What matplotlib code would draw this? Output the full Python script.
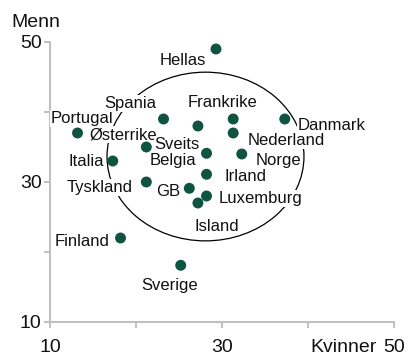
import matplotlib.pyplot as plt
from matplotlib.patches import Ellipse

plt.rcParams['font.family'] = ['Liberation Sans', 'DejaVu Sans']

# andel i prosent, kvinner (x) og menn (y)
land = ['Hellas', 'Portugal', 'Spania', 'Østerrike', 'Italia', 'Sveits', 'Belgia',
        'Frankrike', 'Danmark', 'Nederland', 'Norge', 'Irland', 'Luxemburg',
        'Island', 'GB', 'Tyskland', 'Finland', 'Sverige']
kvinner = [29.3, 13.2, 23.2, 21.2, 17.3, 27.2, 28.2, 31.3, 37.3, 31.3, 32.3,
           28.2, 28.2, 27.2, 26.2, 21.2, 18.2, 25.2]
menn = [49.0, 37.0, 39.0, 35.0, 33.0, 38.0, 34.1, 39.0, 39.0, 37.0, 34.0,
        31.1, 28.0, 27.0, 29.1, 30.0, 22.0, 18.1]

x_ticks = [10, 20, 30, 40, 50]
x_ticklabels = ['10', '', '30', '', '50']
y_ticks = [10, 20, 30, 40, 50]
y_ticklabels = ['10', '', '30', '', '50']

# etikettplassering: forskyvning i piksler og justering
plassering = {
    'Hellas': (-10, -16, 'right'), 'Portugal': (4, 10, 'center'),
    'Spania': (-33, 11, 'center'), 'Østerrike': (-23, 8, 'center'),
    'Italia': (-9, -5, 'right'), 'Sveits': (-21, -23, 'center'),
    'Belgia': (-10, -12, 'right'), 'Frankrike': (-11, 12, 'center'),
    'Danmark': (13, -11, 'left'), 'Nederland': (14, -12, 'left'),
    'Norge': (14, -11, 'left'), 'Irland': (18, -7, 'left'),
    'Luxemburg': (12, -7, 'left'), 'Island': (19, -28, 'center'),
    'GB': (-9, -8, 'right'), 'Tyskland': (-14, -10, 'right'),
    'Finland': (-11, -8, 'right'), 'Sverige': (-11, -25, 'center'),
}

fig = plt.figure(figsize=(4.08, 3.56), dpi=100)
ax = fig.add_axes([50 / 408, 1 - 322 / 356, 344 / 408, 280 / 356])
ax.set_xlim(10, 50)
ax.set_ylim(10, 50)

grey = '#c0c0c0'
for side in ['top', 'right']:
    ax.spines[side].set_visible(False)
for side in ['left', 'bottom']:
    ax.spines[side].set_color(grey)
    ax.spines[side].set_linewidth(1.5)
ax.tick_params(colors=grey, width=1.4, length=4, labelcolor='#111111', labelsize=14)
ax.tick_params(axis='x', pad=8.5)
ax.tick_params(axis='y', pad=2)
ax.set_xticks(x_ticks)
ax.set_xticklabels(x_ticklabels)
ax.set_yticks(y_ticks)
ax.set_yticklabels(y_ticklabels)

ax.add_patch(Ellipse((28.08, 33.64), 22.9, 24.1, fill=False, edgecolor='black',
                     linewidth=0.9, zorder=1))

ax.scatter(kvinner, menn, s=62, color='#0f5440', edgecolors='none', zorder=4,
           clip_on=False)

for navn, x, y in zip(land, kvinner, menn):
    dx, dy, ha = plassering[navn]
    ax.annotate(navn, (x, y), xytext=(dx, dy), textcoords='offset pixels',
                ha=ha, va='baseline', fontsize=12, color='#111111', zorder=3,
                bbox=dict(facecolor='white', edgecolor='none', pad=0.5))

fig.text(36 / 408, 1 - 26.7 / 356, 'Menn', ha='center', va='baseline',
         fontsize=14, color='#111111')
fig.text(344 / 408, 1 - 352 / 356, 'Kvinner', ha='center', va='baseline',
         fontsize=14, color='#111111')

fig.savefig('out.png', dpi=100)
